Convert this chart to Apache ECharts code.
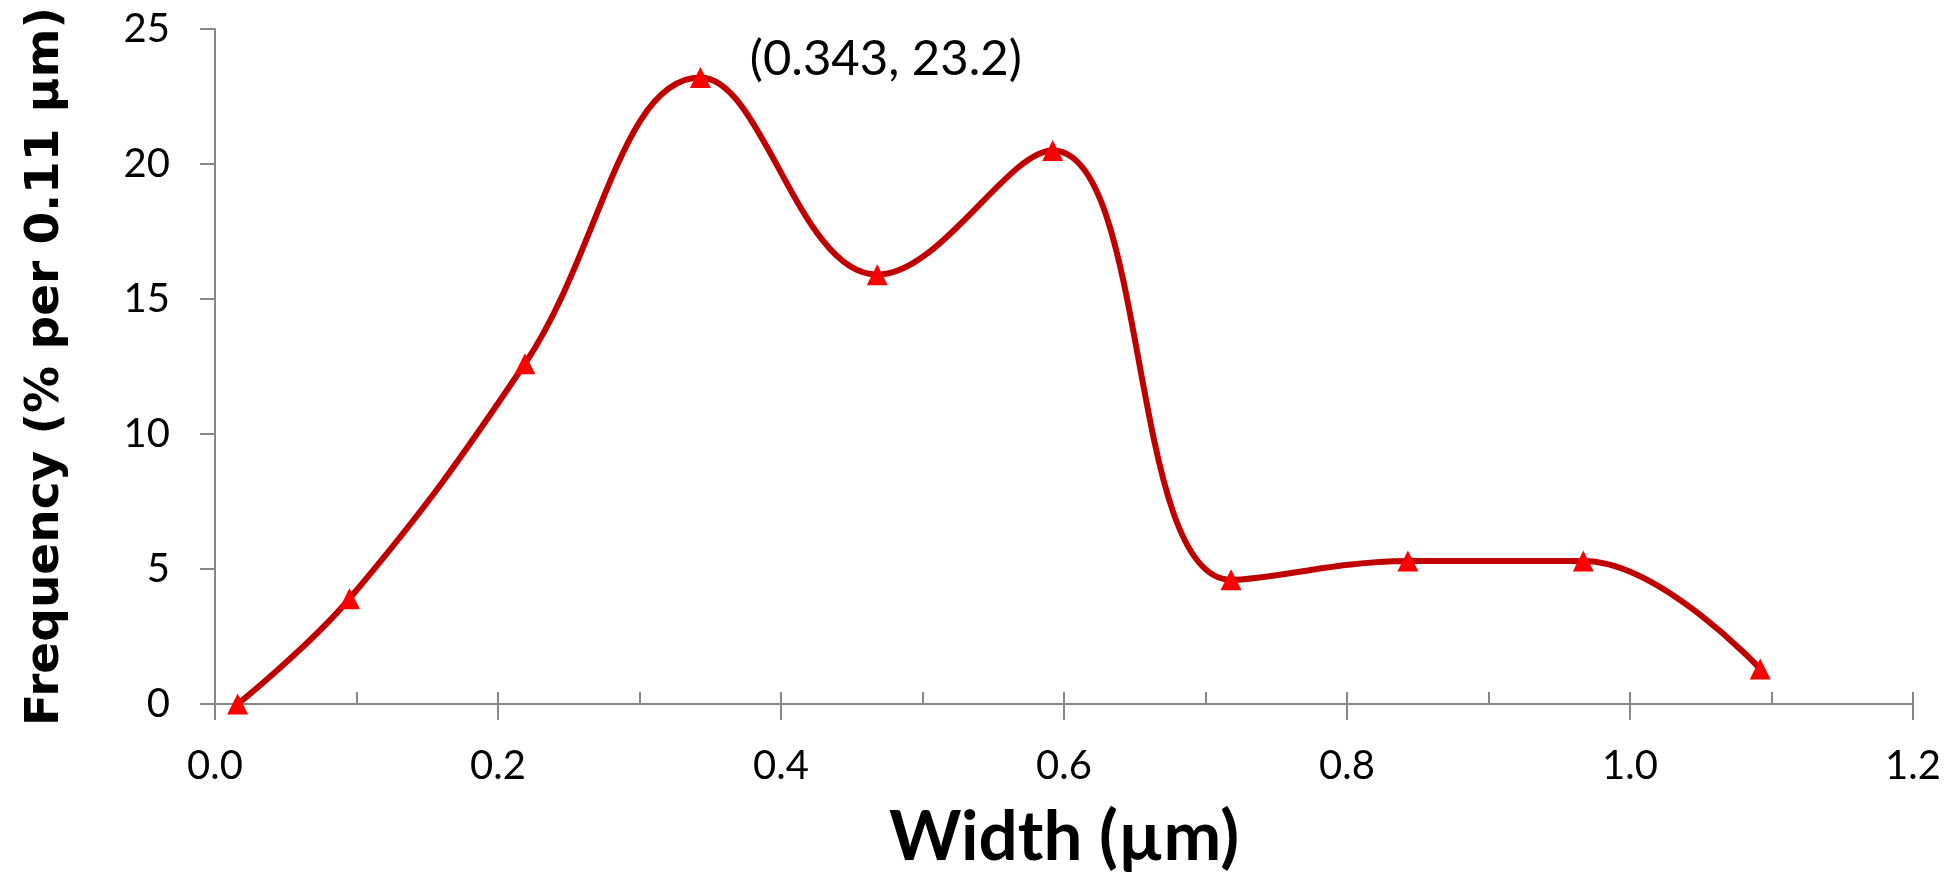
<!DOCTYPE html>
<html><head><meta charset="utf-8">
<script src="https://cdn.jsdelivr.net/npm/echarts@6/dist/echarts.min.js"></script>
<style>html,body{margin:0;padding:0;background:#fff}#c{width:1959px;height:877px}</style>
</head><body><div id="c"></div>
<script>
var widths = [0.016, 0.095, 0.219, 0.343, 0.468, 0.592, 0.718, 0.843, 0.967, 1.092];
var freqs  = [0.0, 3.9, 12.6, 23.2, 15.9, 20.5, 4.6, 5.3, 5.3, 1.3];
var peakIndex = 3;
var xTicks = {min: 0, max: 1.2, interval: 0.2};
var yTicks = {min: 0, max: 25, interval: 5};

var data = widths.map(function (w, i) {
  var item = {value: [w, freqs[i]]};
  if (i === peakIndex) {
    item.label = {
      show: true, position: 'right', offset: [34, -18],
      formatter: '(' + w.toFixed(3) + ', ' + freqs[i].toFixed(1) + ')',
      fontFamily: 'Lato', fontSize: 49, color: '#000'
    };
  }
  return item;
});

var axisGray = '#878787';
var chart = echarts.init(document.getElementById('c'), null, {renderer: 'canvas'});
chart.setOption({
  animation: false,
  grid: {left: 215, right: 46, top: 29, bottom: 166, containLabel: false},
  xAxis: [{
    type: 'value', min: xTicks.min, max: xTicks.max, interval: xTicks.interval,
    axisLine: {show: true, lineStyle: {color: axisGray, width: 2}},
    axisTick: {show: true, inside: false, length: 16, lineStyle: {color: axisGray, width: 2}},
    splitLine: {show: false},
    axisLabel: {margin: 42, fontFamily: 'Lato', fontSize: 40, color: '#000',
      formatter: function (v) { return v.toFixed(1); }},
    name: 'Width (µm)', nameLocation: 'middle', nameGap: 99,
    nameTextStyle: {fontFamily: 'Lato', fontWeight: 'bold', fontSize: 69, color: '#000'}
  }, {
    type: 'value', min: xTicks.min, max: xTicks.max, interval: xTicks.interval, position: 'bottom',
    axisLine: {show: true, lineStyle: {color: axisGray, width: 2}},
    axisTick: {show: true, inside: true, length: 12, lineStyle: {color: axisGray, width: 2}},
    minorTick: {show: true, splitNumber: 2, length: 12, lineStyle: {color: axisGray, width: 2}},
    axisLabel: {show: false}, splitLine: {show: false}
  }],
  yAxis: {
    type: 'value', min: yTicks.min, max: yTicks.max, interval: yTicks.interval,
    axisLine: {show: true, lineStyle: {color: axisGray, width: 2}},
    axisTick: {show: true, inside: false, length: 15, lineStyle: {color: axisGray, width: 2}},
    splitLine: {show: false},
    axisLabel: {margin: 45, fontFamily: 'Lato', fontSize: 40, color: '#000'},
    name: 'Frequency (% per 0.11 µm)', nameLocation: 'middle', nameGap: 146,
    nameTextStyle: {fontFamily: 'DejaVu Sans', fontWeight: 'bold', fontSize: 47, color: '#000'}
  },
  series: [{
    type: 'line', xAxisIndex: 0, data: data, smooth: 0.4,
    lineStyle: {color: '#C00000', width: 6},
    symbol: 'triangle', symbolSize: 21,
    itemStyle: {color: '#FF0000'}
  }]
});
</script></body></html>
